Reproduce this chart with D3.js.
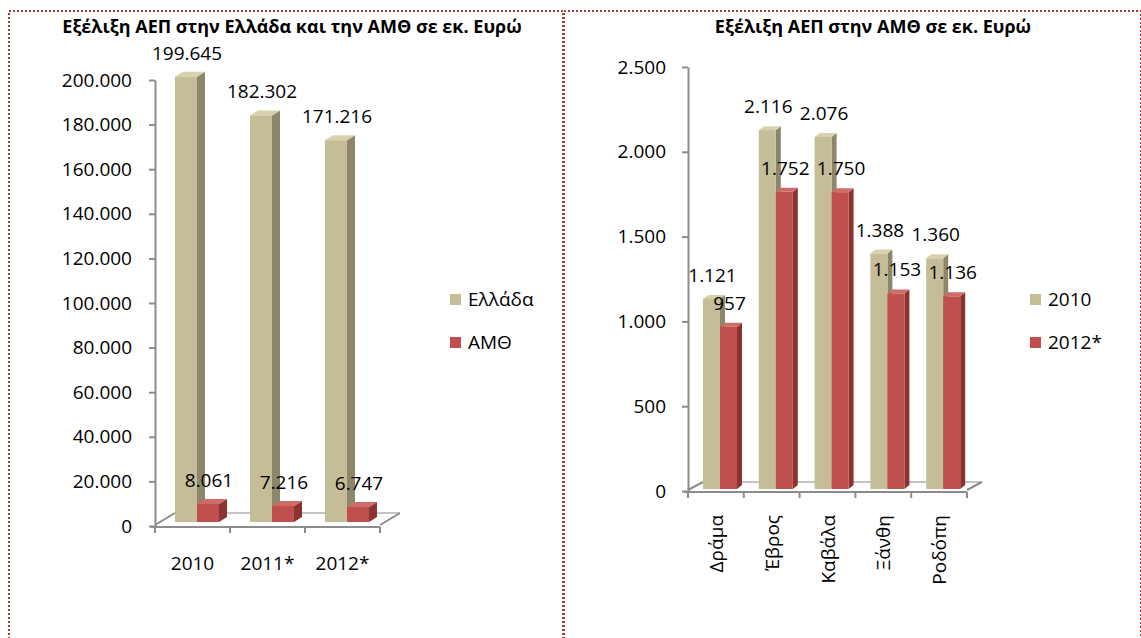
<!DOCTYPE html>
<html>
<head>
<meta charset="utf-8">
<script src="https://cdn.jsdelivr.net/npm/d3@7"></script>
<style>
  body { margin: 0; background: #fff; }
  svg text { font-family: "Open Sans", sans-serif; fill: #000; }
</style>
</head>
<body>
<div id="chart"></div>
<script>
// data
const yearCats = ["2010", "2011*", "2012*"];
const greeceVals = [199645, 182302, 171216];
const amthVals = [8061, 7216, 6747];
const leftTicks = [0, 20000, 40000, 60000, 80000, 100000, 120000, 140000, 160000, 180000, 200000];

const prefCats = ["Δράμα", "Έβρος", "Καβάλα", "Ξάνθη", "Ροδόπη"];
const vals2010 = [1121, 2116, 2076, 1388, 1360];
const vals2012 = [957, 1752, 1750, 1153, 1136];
const rightTicks = [0, 500, 1000, 1500, 2000, 2500];

const grLocale = d3.formatLocale({decimal: ",", thousands: ".", grouping: [3], currency: ["", "€"]});
const fmt = grLocale.format(",d");

const tan = {front: "#C4BD97", side: "#8C876A", top: "#D7D1AE"};
const red = {front: "#C0504D", side: "#8A3432", top: "#CF6B68"};

const W = 1141, H = 638;
const svg = d3.select("#chart").append("svg").attr("width", W).attr("height", H);

// dotted frames
function frame(x0, x1) {
  svg.append("path")
    .attr("d", `M${x0},${H + 5}V11H${x1}V${H + 5}`)
    .attr("fill", "none").attr("stroke", "#a33a3a").attr("stroke-width", 2)
    .attr("stroke-dasharray", "2,2");
}
frame(9, 563);
frame(564, 1141);

function bar3d(g, x, y, w, y0, dx, dy, c) {
  g.append("path")
    .attr("d", `M${x + w},${y}L${x + w + dx},${y + dy}L${x + w + dx},${y0 + dy}L${x + w},${y0}Z`)
    .attr("fill", c.side);
  g.append("path")
    .attr("d", `M${x},${y}L${x + dx},${y + dy}L${x + w + dx},${y + dy}L${x + w},${y}Z`)
    .attr("fill", c.top);
  g.append("rect").attr("x", x).attr("y", y).attr("width", w).attr("height", y0 - y).attr("fill", c.front);
}

function drawChart(o) {
  const g = svg.append("g");
  const x = d3.scaleBand().domain(o.cats).range(o.xRange);
  const inner = d3.scaleBand().domain(["a", "b"]).range(o.innerRange);
  const y = d3.scaleLinear().domain(o.domain).range(o.yRange);
  const yAx = d3.scaleLinear().domain(o.domain).range([o.yRange[0] + o.axShift, o.yRange[1] + o.axShift]);
  const floorY = yAx(0) + 1;
  const [fx0, fx1] = o.xRange;
  const [ddx, ddy] = o.floor;

  // title
  g.append("text").attr("x", o.titleX).attr("y", 33).attr("text-anchor", "middle")
    .attr("font-weight", "bold").attr("font-size", o.titleSize).text(o.title);

  // floor
  const axisCol = "#8c8c8c";
  g.append("path")
    .attr("d", `M${fx0 + ddx},${floorY + ddy}H${fx1 + ddx}`)
    .attr("stroke", "#b0b0b0").attr("stroke-width", 1.5).attr("fill", "none");
  g.append("path")
    .attr("d", `M${fx0},${floorY - 2}L${fx0 + ddx},${floorY + ddy}M${fx1},${floorY - 2}L${fx1 + ddx},${floorY + ddy}M${fx0 - 4},${floorY}H${fx1}`)
    .attr("stroke", axisCol).attr("stroke-width", 2).attr("fill", "none");
  g.selectAll(".xt").data(o.cats.concat(["_end"])).enter().append("line")
    .attr("x1", (d, i) => fx0 + i * x.step()).attr("x2", (d, i) => fx0 + i * x.step())
    .attr("y1", floorY).attr("y2", floorY + 6)
    .attr("stroke", axisCol).attr("stroke-width", 2);

  // y axis
  const ax = g.append("g").attr("transform", `translate(${fx0},0)`)
    .call(d3.axisLeft(yAx).tickValues(o.ticks).tickFormat(fmt).tickSize(6).tickSizeOuter(0).tickPadding(o.tickPad));
  ax.select(".domain").attr("stroke", axisCol).attr("stroke-width", 2);
  ax.selectAll(".tick line").attr("stroke", axisCol).attr("stroke-width", 2);
  ax.selectAll(".tick text").attr("font-size", o.fontSize).attr("font-family", "Open Sans").attr("fill", "#000");

  // bars
  o.cats.forEach((c, i) => {
    const pairs = [[o.s1[i], tan, "a"], [o.s2[i], red, "b"]];
    pairs.forEach(([v, col, k]) => {
      const bx = x(c) + inner(k);
      bar3d(g, bx, y(v), inner.bandwidth(), y(0), o.depth[0], o.depth[1], col);
    });
  });
  // value labels
  o.cats.forEach((c, i) => {
    [[o.s1[i], "a"], [o.s2[i], "b"]].forEach(([v, k]) => {
      g.append("text")
        .attr("x", x(c) + inner(k) + inner.bandwidth() / 2 + 1)
        .attr("y", y(v) - 17)
        .attr("text-anchor", "middle").attr("font-size", o.fontSize)
        .text(fmt(v));
    });
  });

  // category labels
  o.cats.forEach(c => {
    const cx = x(c) + x.bandwidth() / 2;
    if (o.rotate) {
      g.append("text").attr("transform", `translate(${cx + 7},${floorY + 23}) rotate(-90)`)
        .attr("text-anchor", "end").attr("font-size", o.fontSize).text(c);
    } else {
      g.append("text").attr("x", cx).attr("y", floorY + 43)
        .attr("text-anchor", "middle").attr("font-size", o.fontSize).text(c);
    }
  });

  // legend
  o.legend.forEach((name, i) => {
    const ly = 299 + i * 43;
    g.append("rect").attr("x", o.legendX).attr("y", ly - 5).attr("width", 11).attr("height", 11)
      .attr("fill", i === 0 ? tan.front : red.front);
    g.append("text").attr("x", o.legendX + 18).attr("y", ly + 7)
      .attr("font-size", o.fontSize).text(name);
  });
}

drawChart({
  title: "Εξέλιξη ΑΕΠ στην Ελλάδα και την ΑΜΘ σε εκ. Ευρώ", titleX: 292, titleSize: 18,
  cats: yearCats, s1: greeceVals, s2: amthVals, ticks: leftTicks,
  domain: [0, 200000], yRange: [522, 76], axShift: 4,
  xRange: [155, 380], innerRange: [20, 64], depth: [8, -5], floor: [20, -14],
  tickPad: 17, fontSize: 19, rotate: false,
  legend: ["Ελλάδα", "ΑΜΘ"], legendX: 450
});

drawChart({
  title: "Εξέλιξη ΑΕΠ στην ΑΜΘ σε εκ. Ευρώ", titleX: 873, titleSize: 18,
  cats: prefCats, s1: vals2010, s2: vals2012, ticks: rightTicks,
  domain: [0, 2500], yRange: [489, 65], axShift: 2,
  xRange: [688, 967], innerRange: [15, 49], depth: [5, -4], floor: [15, -10],
  tickPad: 16, fontSize: 19, rotate: true,
  legend: ["2010", "2012*"], legendX: 1030
});
</script>
</body>
</html>
